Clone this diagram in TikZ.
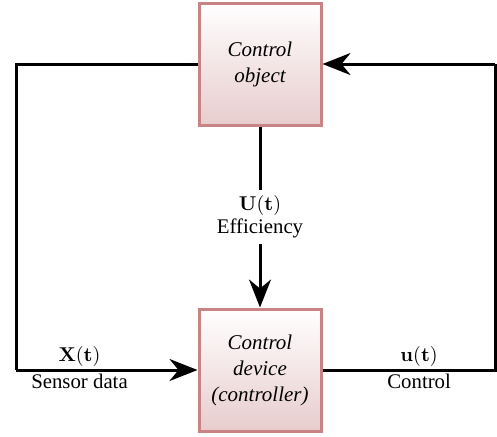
\documentclass[tikz,border=0pt]{standalone}
\usepackage[no-math]{fontspec}
\setmainfont{Liberation Serif}
\usetikzlibrary{arrows.meta}

\definecolor{boxedge}{RGB}{200,132,132}
\definecolor{boxfill}{RGB}{232,204,205}

\tikzstyle{block} = [rectangle,draw=boxedge,line width=1.5pt,top color=white,bottom color=boxfill,minimum size=61pt,inner sep=0pt,align=center,font=\fontsize{10.5}{13}\selectfont\itshape]
\tikzstyle{signal} = [draw,line width=1.5pt]
\tikzstyle{arrowdecorate} = [-{Stealth[length=14pt,width=11pt,inset=4.5pt]}]
\tikzstyle{signame} = [font=\fontsize{10.4}{11.5}\selectfont,align=center,inner sep=1.2pt]

\begin{document}
\begin{tikzpicture}[x=0.5pt,y=-0.5pt]
      \useasboundingbox (0,0) rectangle (497,436);
      % nodes
      \foreach \nodename/\x/\y/\text in {
        obj/260/64/{Control\\object},
        ctrl/260/370/{Control\\device\\(controller)}}
      {
        \node[block] (\nodename) at (\x,\y) {\text};
      };
      % corners
      \coordinate (lt) at (16,64);
      \coordinate (lb) at (16,370);
      \coordinate (rt) at (495,64);
      \coordinate (rb) at (495,370);
      %edges
      \path[signal] (obj.west) -- (lt) -- (lb);
      \path[signal,arrowdecorate] (lb) -- node[signame,pos=0.35,above] {$\mathbf{X}(\mathbf{t})$}
        node[signame,pos=0.35,below] {Sensor data} (ctrl.west);
      \path[signal] (ctrl.east) -- node[signame,pos=0.56,above] {$\mathbf{u}(\mathbf{t})$}
        node[signame,pos=0.56,below] {Control} (rb) -- (rt);
      \path[signal,arrowdecorate] (rt) -- (obj.east);
      \path[signal,arrowdecorate] (obj.south) -- node[signame,fill=white,inner sep=3pt] {$\mathbf{U}(\mathbf{t})$\\Efficiency} (ctrl.north);
\end{tikzpicture}
\end{document}
